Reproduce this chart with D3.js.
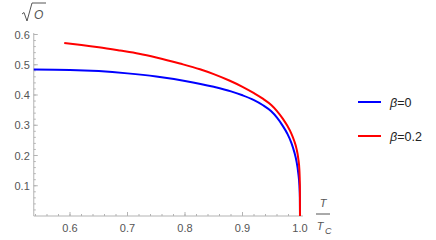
<!DOCTYPE html>
<html>
<head>
<meta charset="utf-8">
<script src="https://cdn.jsdelivr.net/npm/d3@7"></script>
<style>
  body { margin: 0; background: #fff; }
  text { font-family: "Liberation Sans", Arial, sans-serif; }
</style>
</head>
<body>
<svg class="chart1" width="436" height="240"></svg>
<script>
//------------------------------------------------------------------------------
//Data
//------------------------------------------------------------------------------
var tBeta0 = [0.537, 0.60, 0.65, 0.70, 0.75, 0.80, 0.85, 0.88, 0.90, 0.92, 0.935, 0.95, 0.96, 0.97, 0.978, 0.985, 0.99, 0.994, 0.997, 0.999, 0.9998, 1.0];
var oBeta0 = [0.484, 0.4828, 0.479, 0.4715, 0.461, 0.4465, 0.427, 0.412, 0.399, 0.383, 0.367, 0.346, 0.325, 0.298, 0.272, 0.242, 0.212, 0.180, 0.142, 0.100, 0.060, 0.0];

var tBeta02 = [0.59, 0.62, 0.65, 0.687, 0.72, 0.75, 0.791, 0.826, 0.85, 0.878, 0.90, 0.92, 0.936, 0.95, 0.96, 0.97, 0.978, 0.985, 0.99, 0.994, 0.997, 0.999, 0.9998, 1.0];
var oBeta02 = [0.572, 0.5655, 0.558, 0.547, 0.5365, 0.524, 0.504, 0.485, 0.469, 0.447, 0.427, 0.406, 0.387, 0.367, 0.347, 0.322, 0.298, 0.272, 0.248, 0.222, 0.190, 0.150, 0.100, 0.0];

var seriesNames = ["\u03b2=0", "\u03b2=0.2"];
var seriesColors = ["#0000ff", "#ff0000"];

var xTicks = [0.6, 0.7, 0.8, 0.9, 1.0];
var yTicks = [0.1, 0.2, 0.3, 0.4, 0.5, 0.6];


//------------------------------------------------------------------------------
//Chart
//------------------------------------------------------------------------------
function D3_orderParam() {
  var svg = d3.select(".chart1");
  var axisColor = "#b3b3b3";
  var labelColor = "#555";

  var x = d3.scaleLinear().domain([0.6, 1.0]).range([70, 300]);
  var y = d3.scaleLinear().domain([0, 0.6]).range([216, 34.5]);

  var xMin = 0.537, xMax = 1.005;

  // axis lines
  svg.append("line")
    .attr("x1", x(xMin)).attr("x2", x(xMax))
    .attr("y1", y(0)).attr("y2", y(0))
    .attr("stroke", axisColor).attr("stroke-width", 1);
  svg.append("line")
    .attr("x1", x(xMin)).attr("x2", x(xMin))
    .attr("y1", y(0)).attr("y2", y(0.605))
    .attr("stroke", axisColor).attr("stroke-width", 1);

  // minor + major ticks (inside)
  var xMinor = d3.range(0.54, 1.005, 0.02);
  svg.append("g").selectAll("line")
    .data(xMinor)
    .enter()
    .append("line")
      .attr("x1", function (d) { return x(d); })
      .attr("x2", function (d) { return x(d); })
      .attr("y1", y(0))
      .attr("y2", function (d) { return y(0) - 2; })
      .attr("stroke", axisColor);
  svg.append("g").selectAll("line")
    .data(xTicks)
    .enter()
    .append("line")
      .attr("x1", function (d) { return x(d); })
      .attr("x2", function (d) { return x(d); })
      .attr("y1", y(0))
      .attr("y2", y(0) - 4)
      .attr("stroke", axisColor);

  var yMinor = d3.range(0.02, 0.605, 0.02);
  svg.append("g").selectAll("line")
    .data(yMinor)
    .enter()
    .append("line")
      .attr("x1", x(xMin))
      .attr("x2", x(xMin) + 2)
      .attr("y1", function (d) { return y(d); })
      .attr("y2", function (d) { return y(d); })
      .attr("stroke", axisColor);
  svg.append("g").selectAll("line")
    .data(yTicks)
    .enter()
    .append("line")
      .attr("x1", x(xMin))
      .attr("x2", x(xMin) + 4)
      .attr("y1", function (d) { return y(d); })
      .attr("y2", function (d) { return y(d); })
      .attr("stroke", axisColor);

  // tick labels
  svg.append("g").selectAll("text")
    .data(xTicks)
    .enter()
    .append("text")
      .attr("x", function (d) { return x(d); })
      .attr("y", y(0) + 16)
      .attr("text-anchor", "middle")
      .attr("font-size", "11px")
      .attr("fill", labelColor)
      .text(function (d) { return d.toFixed(1); });
  svg.append("g").selectAll("text")
    .data(yTicks)
    .enter()
    .append("text")
      .attr("x", x(xMin) - 4)
      .attr("y", function (d) { return y(d) + 4; })
      .attr("text-anchor", "end")
      .attr("font-size", "11px")
      .attr("fill", labelColor)
      .text(function (d) { return d.toFixed(1); });

  // curves
  var line = d3.line()
    .x(function (d) { return x(d[0]); })
    .y(function (d) { return y(d[1]); })
    .curve(d3.curveMonotoneX);

  var series = [d3.zip(tBeta0, oBeta0), d3.zip(tBeta02, oBeta02)];
  svg.append("g").selectAll("path")
    .data(series)
    .enter()
    .append("path")
      .attr("d", line)
      .attr("fill", "none")
      .attr("stroke", function (d, i) { return seriesColors[i]; })
      .attr("stroke-width", 2);

  // y label: sqrt(O)
  var yl = svg.append("g").attr("transform", "translate(22,0)");
  yl.append("path")
    .attr("d", "M0,14 L2,12.5 L5,21 L10,3 L24,3")
    .attr("fill", "none")
    .attr("stroke", labelColor)
    .attr("stroke-width", 1);
  yl.append("text")
    .attr("x", 12).attr("y", 19)
    .attr("font-size", "12px")
    .attr("font-style", "italic")
    .attr("fill", labelColor)
    .text("O");

  // x label: T / T_c
  var xl = svg.append("g").attr("transform", "translate(323,0)");
  xl.append("text")
    .attr("x", 0).attr("y", 207)
    .attr("text-anchor", "middle")
    .attr("font-size", "11px")
    .attr("font-style", "italic")
    .attr("fill", labelColor)
    .text("T");
  xl.append("line")
    .attr("x1", -7).attr("x2", 7)
    .attr("y1", 214).attr("y2", 214)
    .attr("stroke", labelColor);
  xl.append("text")
    .attr("x", -3).attr("y", 230)
    .attr("text-anchor", "middle")
    .attr("font-size", "11px")
    .attr("font-style", "italic")
    .attr("fill", labelColor)
    .text("T");
  xl.append("text")
    .attr("x", 2).attr("y", 234)
    .attr("font-size", "9px")
    .attr("font-style", "italic")
    .attr("fill", labelColor)
    .text("C");

  // legend
  var leg = svg.append("g").selectAll("g")
    .data(seriesNames)
    .enter()
    .append("g")
      .attr("transform", function (d, i) { return "translate(358," + (102 + i * 34) + ")"; });
  leg.append("line")
    .attr("x1", 0).attr("x2", 23)
    .attr("stroke", function (d, i) { return seriesColors[i]; })
    .attr("stroke-width", 2);
  var lt = leg.append("text")
    .attr("x", 32).attr("y", 4.5)
    .attr("font-size", "12.5px")
    .attr("fill", "#222");
  lt.append("tspan")
    .attr("font-style", "italic")
    .text(function (d) { return d.slice(0, 1); });
  lt.append("tspan")
    .text(function (d) { return d.slice(1); });
}

D3_orderParam();
</script>
</body>
</html>
